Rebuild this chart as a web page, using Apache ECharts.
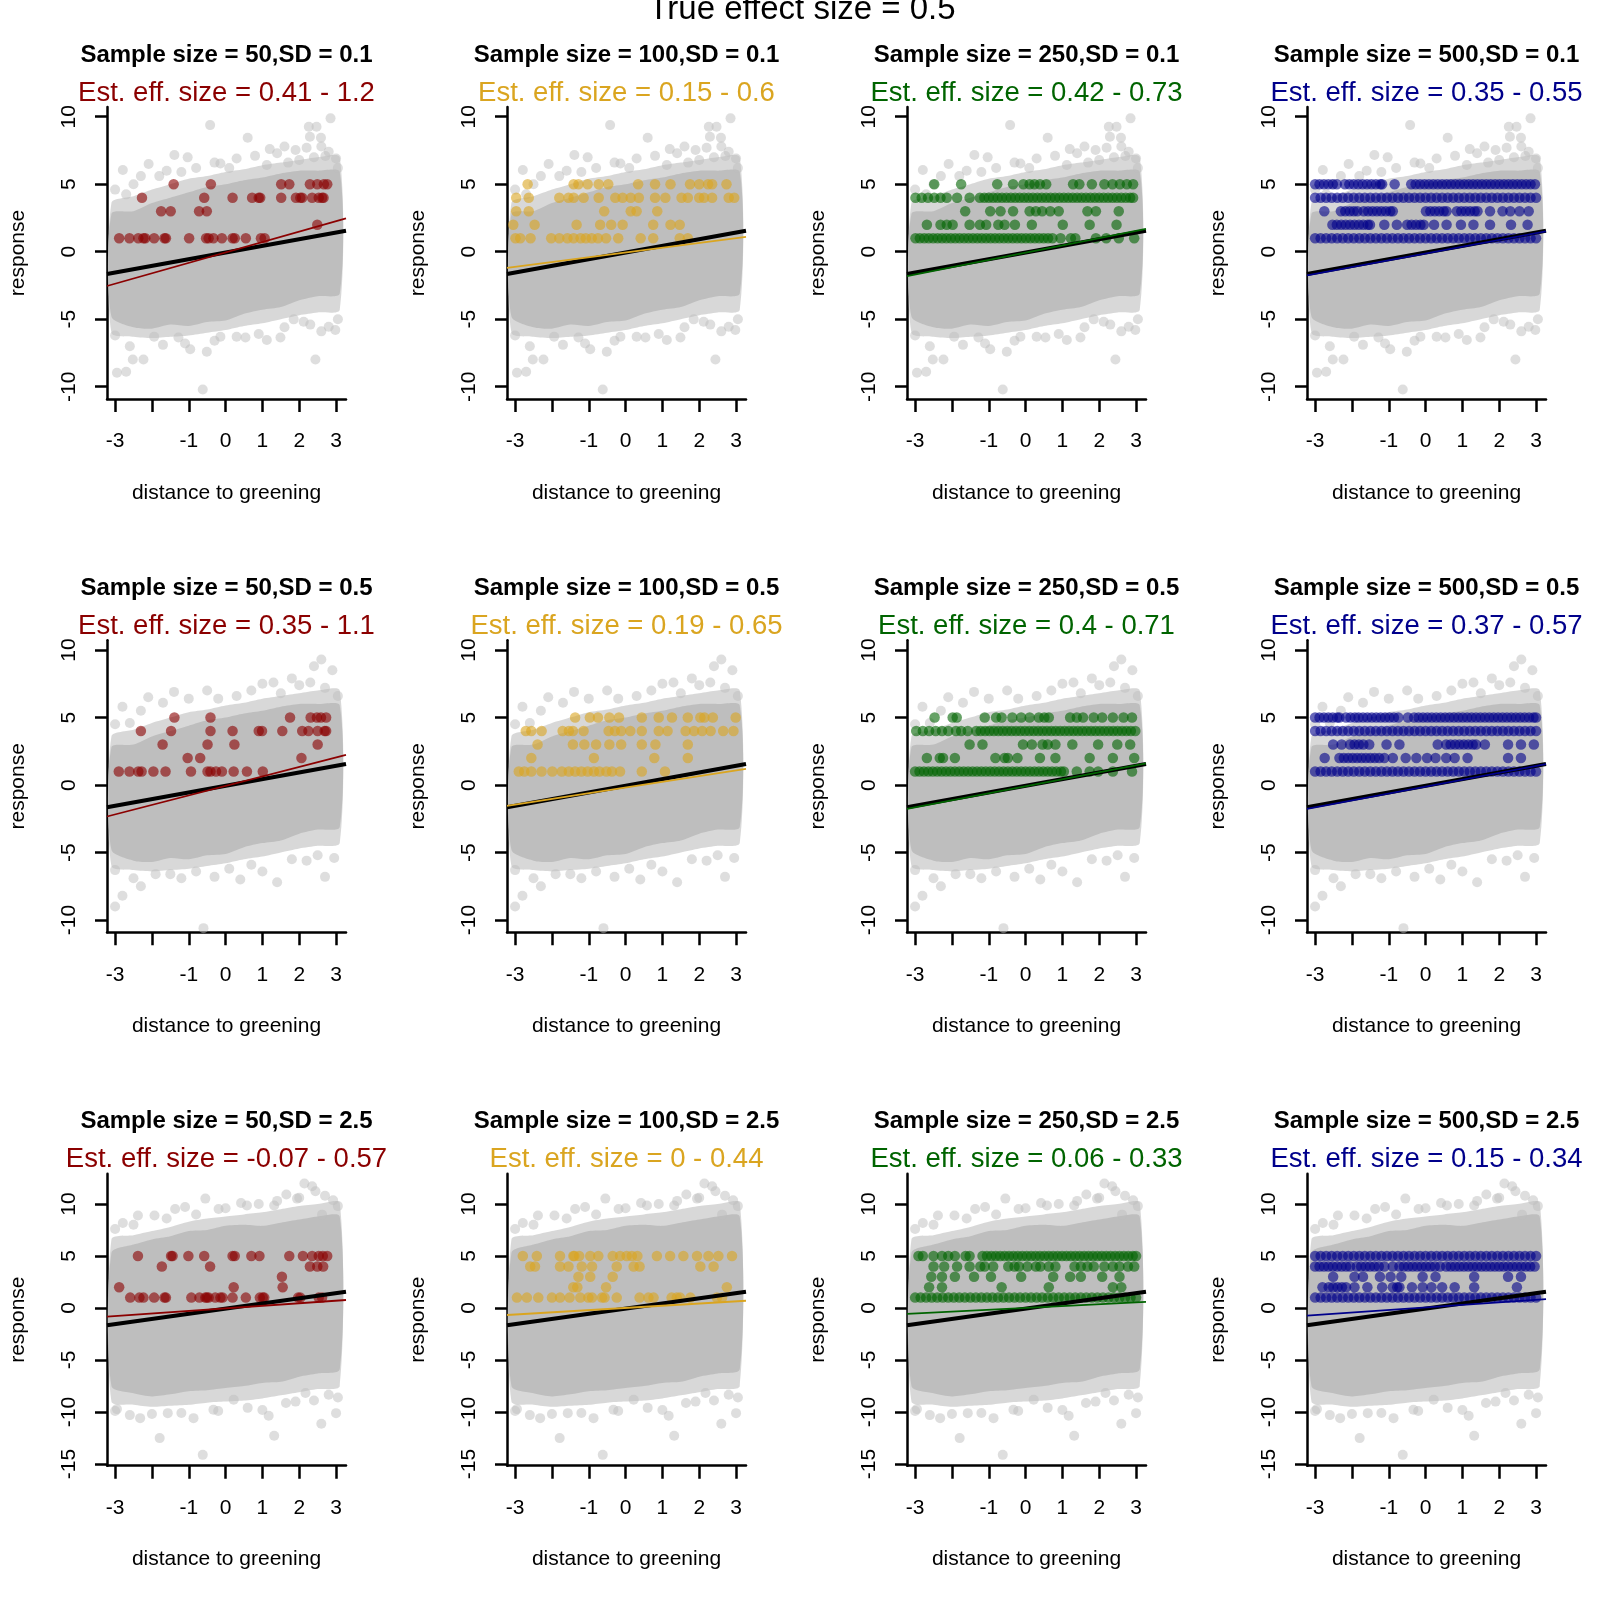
<!DOCTYPE html>
<html>
<head>
<meta charset="utf-8">
<script src="https://cdn.jsdelivr.net/npm/echarts@6/dist/echarts.min.js"></script>
<style>
  html, body { margin: 0; padding: 0; background: #fff; }
  #chart { width: 1600px; height: 1600px; }
</style>
</head>
<body>
<div id="chart"></div>
<script>
// panel headings
const sampleSizes = [50, 100, 250, 500];
const sdLevels = ['0.1', '0.5', '2.5'];
const panelColors = ['#8B0000', '#DAA520', '#006400', '#00008B'];
const estRanges = [
  ['0.41 - 1.2', '0.15 - 0.6', '0.42 - 0.73', '0.35 - 0.55'],
  ['0.35 - 1.1', '0.19 - 0.65', '0.4 - 0.71', '0.37 - 0.57'],
  ['-0.07 - 0.57', '0 - 0.44', '0.06 - 0.33', '0.15 - 0.34']
];

// ticks
const xTicks = [-3, -2, -1, 0, 1, 2, 3];
const xTickLabels = [-3, -1, 0, 1, 2, 3];
const yTicksTop = [-10, -5, 0, 5, 10];
const yTicksBottom = [-15, -10, -5, 0, 5, 10];

// grey cloud: dense band and sparse band
const bandX = [-3.1, -2.5, -2, -1.5, -1, -0.5, 0, 0.5, 1, 1.5, 2, 2.5, 3.1];
const coreTopA = [2.8, 3.0, 3.6, 4.0, 4.4, 4.8, 5.0, 5.3, 5.5, 5.8, 6.0, 6.0, 5.9];
const coreBotA = [-4.8, -5.6, -5.7, -5.4, -5.5, -5.2, -5.1, -4.6, -4.3, -4.1, -3.6, -3.3, -3.1];
const haloTopA = [3.6, 4.1, 4.6, 5.0, 5.4, 5.6, 5.9, 6.1, 6.4, 6.6, 6.8, 7.0, 7.0];
const haloBotA = [-6.0, -6.3, -6.4, -6.3, -6.2, -6.0, -5.8, -5.5, -5.3, -5.0, -4.7, -4.5, -4.3];
const coreTopC = [5.3, 6.1, 6.6, 6.9, 7.4, 7.5, 7.9, 8.0, 7.9, 8.2, 8.5, 8.8, 8.8];
const coreBotC = [-7.5, -8.2, -8.5, -8.3, -8.0, -7.9, -7.7, -7.5, -7.2, -7.1, -6.6, -6.3, -5.9];
const haloTopC = [6.6, 7.0, 7.4, 7.8, 8.3, 8.6, 8.8, 9.0, 9.2, 9.5, 9.8, 10.0, 10.1];
const haloBotC = [-9.0, -9.3, -9.5, -9.4, -9.3, -9.1, -9.0, -8.9, -8.7, -8.4, -8.1, -7.8, -7.5];

// loose grey points outside the cloud
const strayA = [[-2.79,6.05],[-2.70,4.25],[-2.09,6.5],[-1.39,7.16],[-1.03,6.99],[-0.42,9.38],[-0.14,6.54],[0.60,8.44],[1.12,6.42],[1.90,7.53],[2.26,9.26],[2.47,9.26],[2.29,8.52],[2.59,8.44],[2.85,9.88],[2.71,7.09],[-2.5,5.0],[-1.8,5.6],[-0.8,6.2],[0.3,6.9],[1.4,7.3],[2.0,6.8],[2.2,7.7],[2.6,7.8],[3.0,6.9],[1.7,6.6],
  [-3.0,4.6],[-2.3,5.6],[-1.6,6.0],[-1.2,5.9],[-0.3,6.6],[0.1,6.2],[0.8,7.1],[1.2,7.6],[1.6,7.8],[2.4,7.0],[2.8,7.4],[3.05,6.2],
  [-2.95,-8.96],[-2.70,-8.89],[-2.52,-7.98],[-2.23,-7.98],[-0.96,-7.23],[-0.51,-7.41],[-0.62,-10.2],[-0.14,-6.30],[0.54,-6.35],[1.12,-6.54],[1.49,-6.35],[2.44,-7.98],[2.80,-5.56],[2.98,-5.80],[1.85,-5.01],[2.12,-5.19],[-1.28,-6.35],[-1.94,-6.30],
  [-3.0,-6.2],[-2.6,-7.0],[-1.7,-6.9],[-1.1,-6.8],[-0.3,-6.6],[0.3,-6.3],[0.9,-6.1],[1.6,-5.6],[2.3,-5.4],[2.6,-5.9],[3.05,-5.0]];
const strayB = [[-2.8,5.8],[-2.1,6.5],[-1.4,6.9],[-0.5,7.0],[0.3,6.6],[1.0,7.5],[1.5,6.8],[2.0,7.4],[2.4,8.8],[2.6,9.3],[2.9,8.5],[2.7,7.2],[-2.6,4.6],[-1.0,6.4],
  [-3.0,4.5],[-2.3,5.5],[-1.7,6.1],[-0.2,6.4],[0.7,7.0],[1.3,7.6],[1.8,7.9],[2.3,7.6],[3.05,6.6],
  [-3.0,-9.0],[-2.8,-8.2],[-2.3,-7.5],[-1.9,-6.6],[-1.2,-6.9],[-0.6,-10.6],[-0.3,-6.8],[0.4,-7.0],[1.0,-6.4],[1.4,-7.2],[2.2,-5.6],[2.7,-6.8],[2.95,-5.4],
  [-3.0,-6.3],[-2.5,-6.9],[-1.5,-6.6],[-0.8,-6.4],[0.1,-6.2],[0.7,-5.9],[1.8,-5.5],[2.5,-5.2]];
const strayC = [[-2.79,8.18],[-2.38,8.89],[-1.93,8.89],[-1.37,9.53],[-1.10,9.72],[-0.55,10.52],[-0.19,9.53],[0.42,10.1],[0.58,9.85],[1.32,9.85],[1.65,10.91],[1.94,10.52],[2.14,11.97],[2.35,11.71],[2.44,11.23],[2.92,10.36],[2.62,8.98],
  [-3.0,7.6],[-2.5,8.0],[-1.6,8.6],[-0.8,9.0],[0.0,9.6],[0.9,10.0],[1.4,10.3],[2.0,10.6],[2.7,10.8],[3.05,9.8],
  [-2.95,-9.72],[-2.32,-10.59],[-1.79,-12.51],[-1.57,-10.11],[-0.87,-10.59],[-0.62,-14.12],[-0.33,-9.79],[1.17,-10.36],[1.32,-12.29],[1.64,-9.14],[2.17,-8.18],[2.60,-11.13],[3.0,-10.11],[2.80,-8.34],[0.22,-8.82],
  [-3.0,-9.9],[-2.6,-10.3],[-2.0,-10.2],[-1.2,-10.1],[-0.2,-9.9],[0.6,-9.6],[1.0,-9.8],[1.9,-9.0],[2.4,-8.9],[3.05,-8.6]];

// coloured sample points: x positions at response 1,2,3,4,5
const fullRow = [-3,-2.85,-2.7,-2.55,-2.4,-2.25,-2.1,-1.95,-1.8,-1.65,-1.5,-1.35,-1.2,-1.05,-0.9,-0.75,-0.6,-0.45,-0.3,-0.15,0,0.15,0.3,0.45,0.6,0.75,0.9,1.05,1.2,1.35,1.5,1.65,1.8,1.95,2.1,2.25,2.4,2.55,2.7,2.85,3];
const ptsR1C1 = [
  [-2.89,-2.61,-2.37,-2.23,-2.18,-1.94,-1.66,-1.62,-0.99,-0.53,-0.46,-0.33,-0.10,0.19,0.25,0.55,0.96,1.06],
  [2.49],
  [-1.75,-1.49,-0.72,-0.51],
  [-2.27,-0.58,0.19,0.72,0.90,0.94,1.51,1.91,2.03,2.08,2.35,2.53,2.62,2.66],
  [-1.41,-0.40,1.51,1.73,2.29,2.49,2.67,2.76]
];
const ptsR1C2 = [
  [-2.99,-2.86,-2.58,-2.02,-1.80,-1.58,-1.41,-1.22,-1.08,-0.92,-0.75,-0.53,-0.20,0.41,0.75,1.47,1.69],
  [-3.05,-2.47,-1.33,-0.69,-0.39,-0.08,0.75,1.22,1.47],
  [-2.97,-2.63,-0.58,0.14,0.30,0.86],
  [-2.97,-2.63,-1.80,-1.55,-1.41,-1.14,-0.73,-0.28,-0.08,0.14,0.36,0.80,1.08,1.52,1.69,2.00,2.13,2.35,2.80,2.95],
  [-2.66,-1.41,-1.28,-1.03,-0.73,-0.47,0.34,0.80,1.22,1.75,2.00,2.24,2.35,2.74]
];
const ptsR1C3 = [
  [-2.99,-2.87,-2.75,-2.63,-2.51,-2.39,-2.27,-2.15,-2.03,-1.91,-1.79,-1.67,-1.55,-1.43,-1.31,-1.19,-1.07,-0.95,-0.83,-0.71,-0.59,-0.47,-0.35,-0.23,-0.11,0.01,0.13,0.25,0.37,0.49,0.61,0.73,0.95,1.23,1.35,1.91,2.19,2.53,2.95],
  [-2.68,-2.31,-2.14,-1.98,-1.52,-1.24,-1.07,-0.74,-0.57,-0.29,0.17,1.01,1.74,2.47],
  [-1.64,-0.96,-0.68,-0.34,0.11,0.28,0.45,0.67,0.90,1.68,1.91,2.53],
  [-2.99,-2.82,-2.65,-2.48,-2.31,-2.14,-1.86,-1.52,-1.24,-1.12,-1.0,-0.88,-0.76,-0.64,-0.52,-0.4,-0.28,-0.16,-0.04,0.08,0.2,0.32,0.44,0.56,0.68,0.8,0.92,1.04,1.16,1.28,1.4,1.52,1.64,1.76,1.88,2.0,2.12,2.24,2.36,2.48,2.6,2.72,2.84,2.92],
  [-2.48,-1.75,-0.77,-0.34,-0.06,0.11,0.24,0.39,0.56,1.29,1.46,1.80,2.14,2.36,2.56,2.75,2.92]
];
const ptsR1C4 = [
  fullRow,
  [-2.53,-2.41,-2.29,-2.17,-2.05,-1.93,-1.81,-1.69,-1.57,-1.51,-1.12,-0.78,-0.5,-0.38,-0.26,-0.14,-0.05,0.23,0.57,0.96,1.30,1.75,2.32,2.77],
  [-2.75,-2.3,-2.18,-2.06,-1.95,-1.85,-1.68,-1.56,-1.44,-1.32,-1.2,-1.08,-0.96,-0.89,0.01,0.13,0.25,0.37,0.49,0.57,0.85,0.97,1.09,1.21,1.33,1.41,1.75,2.09,2.3,2.55,2.8],
  fullRow,
  [-3,-2.88,-2.76,-2.64,-2.52,-2.41,-2.19,-2.07,-1.95,-1.83,-1.71,-1.59,-1.47,-1.35,-1.23,-1.18,-0.84,-0.39,-0.27,-0.15,-0.03,0.09,0.21,0.33,0.45,0.57,0.69,0.81,0.93,1.05,1.17,1.29,1.41,1.53,1.65,1.77,1.89,2.01,2.13,2.25,2.37,2.49,2.61,2.73,2.85,2.97]
];
const ptsR2C1 = [
  [-2.90,-2.61,-2.37,-2.28,-1.96,-1.63,-0.94,-0.49,-0.41,-0.26,-0.10,0.22,0.58,1.01],
  [-1.03,-0.69,2.06],
  [-1.71,-0.49,0.24,2.50],
  [-2.30,-1.48,-0.41,0.19,0.90,0.99,1.54,2.08,2.25,2.50,2.69,2.73],
  [-1.39,-0.41,1.75,2.31,2.48,2.59,2.73]
];
const ptsR2C2 = [
  [-2.90,-2.75,-2.56,-2.28,-1.99,-1.73,-1.54,-1.37,-1.20,-1.03,-0.86,-0.71,-0.52,-0.37,-0.15,0.44,1.07],
  [-2.56,-0.86,0.78,1.69],
  [-2.39,-1.43,-1.12,-0.80,-0.44,-0.12,0.44,0.81,1.69],
  [-2.71,-2.56,-2.28,-1.71,-1.54,-1.43,-1.14,-0.46,-0.29,-0.12,0.13,0.44,0.90,1.14,1.63,1.86,2.08,2.31,2.65,2.93],
  [-1.37,-0.97,-0.75,-0.44,-0.18,0.44,0.90,1.26,1.69,2.03,2.14,2.37,2.99]
];
const ptsR2C3 = [
  [-3,-2.88,-2.76,-2.64,-2.52,-2.4,-2.28,-2.16,-2.04,-1.92,-1.8,-1.68,-1.56,-1.44,-1.32,-1.2,-1.08,-0.96,-0.84,-0.72,-0.6,-0.48,-0.36,-0.24,-0.12,0,0.12,0.24,0.36,0.48,0.6,0.72,0.84,0.96,1.04,1.39,1.74,1.97,2.37,2.89],
  [-2.68,-2.33,-2.24,-1.92,-0.82,-0.57,-0.48,-0.22,0.39,0.81,1.74,2.37,2.95],
  [-1.52,-1.17,-0.07,0.17,0.46,0.60,0.81,1.27,1.97,2.49,2.84],
  [-2.97,-2.79,-2.62,-2.44,-2.27,-2.10,-1.89,-1.75,-1.57,-1.34,-1.22,-1.1,-0.98,-0.86,-0.74,-0.62,-0.5,-0.38,-0.26,-0.14,-0.02,0.1,0.22,0.34,0.46,0.58,0.7,0.82,0.94,1.06,1.18,1.3,1.42,1.54,1.66,1.78,1.9,2.02,2.14,2.26,2.38,2.5,2.62,2.74,2.86,2.98],
  [-2.47,-1.98,-1.87,-1.11,-0.80,-0.65,-0.36,-0.12,0.11,0.36,0.51,0.63,1.21,1.39,1.56,1.85,2.08,2.37,2.66,2.89]
];
const ptsR2C4 = [
  fullRow,
  [-2.74,-2.34,-2.22,-2.1,-1.98,-1.86,-1.74,-1.62,-1.5,-1.38,-1.26,-1.12,-0.89,-0.54,-0.25,0.04,0.27,0.56,0.79,1.14,2.24,2.59],
  [-2.51,-2.28,-2.05,-1.93,-1.81,-1.69,-1.53,-1.06,-0.71,0.33,0.56,0.68,0.8,0.92,1.04,1.16,1.28,1.37,1.61,2.24,2.59,2.94],
  fullRow,
  [-3,-2.88,-2.76,-2.64,-2.52,-2.4,-2.34,-2.16,-2.04,-1.92,-1.82,-1.70,-1.58,-1.46,-1.34,-1.22,-1.10,-0.98,-0.86,-0.74,-0.48,-0.31,-0.19,-0.07,0.05,0.17,0.29,0.41,0.53,0.65,0.77,0.89,1.01,1.13,1.25,1.37,1.49,1.61,1.73,1.85,1.97,2.09,2.21,2.33,2.45,2.57,2.69,2.81,2.93,3.0]
];
const ptsR3C1 = [
  [-2.59,-2.34,-2.23,-1.94,-1.66,-1.62,-0.93,-0.71,-0.55,-0.51,-0.46,-0.28,-0.14,-0.08,0.19,0.55,0.93,1.01,1.05,1.97,2.03,2.53,2.62],
  [-2.89,0.22,1.55],
  [1.53],
  [-1.73,-0.42,2.29,2.49,2.65],
  [-2.38,-1.48,-1.44,-1.01,-0.58,0.19,0.25,0.70,0.92,1.73,2.10,2.35,2.53,2.64,2.76]
];
const ptsR3C2 = [
  [-2.95,-2.68,-2.37,-2.00,-1.78,-1.52,-1.23,-1.01,-0.91,-0.64,-0.57,-0.24,0.38,0.62,0.76,1.25,1.39,1.48,1.76,2.48,2.62],
  [-1.42,-1.31,-0.53,2.75],
  [-1.28,-0.96,-0.35],
  [-2.59,-2.46,-1.78,-1.55,-1.19,-0.91,-0.24,0.22,0.38,2.03,2.39],
  [-2.79,-2.41,-1.78,-1.42,-1.39,-1.26,-0.96,-0.74,-0.35,-0.15,0.03,0.17,0.32,0.85,1.21,1.57,1.94,2.25,2.52,2.89]
];
const ptsR3C3 = [
  fullRow,
  [-2.62,-2.27,-0.65,0.63,2.37,2.60],
  [-2.56,-2.27,-1.92,-1.40,-0.94,-0.12,0.75,1.21,1.50,2.08,2.55],
  [-2.50,-2.21,-1.86,-1.52,-1.23,-1.11,-0.88,-0.47,-0.30,-0.18,0.05,0.28,0.40,0.63,0.81,1.33,1.50,1.68,1.85,2.14,2.37,2.55,2.78,2.95],
  [-2.91,-2.79,-2.50,-2.27,-2.10,-1.92,-1.63,-1.52,-1.17,-1.05,-0.93,-0.81,-0.69,-0.57,-0.45,-0.33,-0.21,-0.09,0.03,0.15,0.27,0.39,0.51,0.63,0.75,0.87,0.99,1.11,1.23,1.35,1.47,1.59,1.71,1.83,1.95,2.07,2.19,2.31,2.43,2.55,2.67,2.79,2.91,3.0]
];
const ptsR3C4 = [
  fullRow,
  [-2.80,-2.63,-2.51,-2.39,-2.27,-2.16,-1.93,-1.58,-1.18,-0.89,-0.77,-0.71,-0.37,-0.08,0.16,0.45,0.79,1.32,2.48],
  [-2.51,-1.93,-1.70,-1.24,-0.95,-0.66,-0.08,0.27,1.32,2.24,2.59],
  [-3,-2.88,-2.76,-2.64,-2.52,-2.4,-2.28,-2.16,-2.05,-1.87,-1.75,-1.63,-1.51,-1.39,-1.27,-1.12,-0.89,-0.71,-0.59,-0.47,-0.35,-0.23,-0.11,0.01,0.13,0.25,0.39,0.56,0.68,0.8,0.92,1.04,1.16,1.28,1.4,1.52,1.64,1.76,1.88,2.0,2.12,2.24,2.36,2.48,2.6,2.72,2.84,2.96],
  fullRow
];
const panelPoints = [
  [ptsR1C1, ptsR1C2, ptsR1C3, ptsR1C4],
  [ptsR2C1, ptsR2C2, ptsR2C3, ptsR2C4],
  [ptsR3C1, ptsR3C2, ptsR3C3, ptsR3C4]
];

// fitted lines, y at left and right edge of the plot
const trueLine = [-1.65, 1.56];
const fitLines = [
  [[-2.54, 2.47], [-1.2, 1.1], [-1.8, 1.7], [-1.75, 1.5]],
  [[-2.33, 2.24], [-1.55, 1.2], [-1.76, 1.6], [-1.76, 1.55]],
  [[-0.83, 0.77], [-0.67, 0.70], [-0.57, 0.60], [-0.73, 0.86]]
];

const FONT = 'Liberation Sans';
const X_MIN = -3.22, X_MAX = 3.27;
const rowYRange = [[-10.91, 10.72], [-10.91, 10.72], [-15.16, 12.92]];
const rowBands = [
  [coreTopA, coreBotA, haloTopA, haloBotA, strayA],
  [coreTopA, coreBotA, haloTopA, haloBotA, strayB],
  [coreTopC, coreBotC, haloTopC, haloBotC, strayC]
];

const chart = echarts.init(document.getElementById('chart'), null, { renderer: 'canvas' });

const grids = [], xAxes = [], yAxes = [], titles = [], series = [];

titles.push({
  text: 'True effect size = 0.5', left: 802, top: 10, padding: 0,
  textAlign: 'center', textVerticalAlign: 'middle',
  textStyle: { fontFamily: FONT, fontSize: 33, fontWeight: 'normal', color: '#000' }
});

function band(idx, top, bot, fill) {
  return {
    type: 'custom', xAxisIndex: idx, yAxisIndex: idx, silent: true, z: 1,
    data: [[0, 0]],
    renderItem: function (params, api) {
      const pts = [];
      for (let k = 0; k < bandX.length; k++) pts.push(api.coord([bandX[k], top[k]]));
      for (let k = bandX.length - 1; k >= 0; k--) pts.push(api.coord([bandX[k], bot[k]]));
      return { type: 'polygon', shape: { points: pts, smooth: 0.25 }, style: { fill: fill } };
    }
  };
}

for (let r = 0; r < 3; r++) {
  for (let c = 0; c < 4; c++) {
    const i = r * 4 + c;
    const left = 107 + 400 * c;
    const top = 107 + 533.33 * r;
    const cx = left + 119.5;
    const col = panelColors[c];
    grids.push({ left: left, top: top, width: 239, height: 292 });

    xAxes.push({
      gridIndex: i, type: 'value', min: X_MIN, max: X_MAX,
      axisLine: { show: true, onZero: false, lineStyle: { color: '#000', width: 2.5 } },
      axisTick: { show: true, length: 13, customValues: xTicks, lineStyle: { color: '#000', width: 2.5 } },
      axisLabel: { customValues: xTickLabels, margin: 32, fontSize: 21, fontFamily: FONT, color: '#000',
        formatter: v => String(v) },
      splitLine: { show: false },
      name: 'distance to greening', nameLocation: 'middle', nameGap: 94,
      nameTextStyle: { fontSize: 21, fontFamily: FONT, color: '#000', verticalAlign: 'middle' }
    });

    const yt = r === 2 ? yTicksBottom : yTicksTop;
    yAxes.push({
      gridIndex: i, type: 'value', min: rowYRange[r][0], max: rowYRange[r][1],
      axisLine: { show: true, onZero: false, lineStyle: { color: '#000', width: 2.5 } },
      axisTick: { show: true, length: 12, customValues: yt, lineStyle: { color: '#000', width: 2.5 } },
      axisLabel: { customValues: yt, rotate: 90, margin: 27, fontSize: 21, fontFamily: FONT, color: '#000',
        formatter: v => String(v) },
      splitLine: { show: false },
      name: 'response', nameLocation: 'middle', nameGap: 89, nameRotate: 90,
      nameTextStyle: { fontSize: 21, fontFamily: FONT, color: '#000', verticalAlign: 'middle' }
    });

    titles.push({
      text: 'Sample size = ' + sampleSizes[c] + ',SD = ' + sdLevels[r],
      left: cx, top: 55 + 533.33 * r, padding: 0, textAlign: 'center', textVerticalAlign: 'middle',
      textStyle: { fontFamily: FONT, fontSize: 24, fontWeight: 'bold', color: '#000' }
    });
    titles.push({
      text: 'Est. eff. size = ' + estRanges[r][c],
      left: cx, top: 93 + 533.33 * r, padding: 0, textAlign: 'center', textVerticalAlign: 'middle',
      textStyle: { fontFamily: FONT, fontSize: 27.5, fontWeight: 'normal', color: col }
    });

    const b = rowBands[r];
    series.push(band(i, b[2], b[3], 'rgba(190,190,190,0.6)'));
    series.push(band(i, b[0], b[1], '#bebebe'));
    series.push({
      type: 'scatter', xAxisIndex: i, yAxisIndex: i, silent: true, z: 2,
      symbol: 'circle', symbolSize: 10,
      itemStyle: { color: '#bebebe', opacity: 0.5 },
      data: b[4]
    });

    const pts = panelPoints[r][c];
    const data = [];
    pts.forEach((xs, k) => xs.forEach(x => data.push([x, k + 1])));
    series.push({
      type: 'scatter', xAxisIndex: i, yAxisIndex: i, silent: true, z: 3,
      symbol: 'circle', symbolSize: 10.5,
      itemStyle: { color: col, opacity: 0.6 },
      data: data
    });

    series.push({
      type: 'line', xAxisIndex: i, yAxisIndex: i, silent: true, z: 4,
      symbol: 'none', lineStyle: { color: '#000', width: 4 },
      data: [[X_MIN, trueLine[0]], [X_MAX, trueLine[1]]]
    });
    const f = fitLines[r][c];
    series.push({
      type: 'line', xAxisIndex: i, yAxisIndex: i, silent: true, z: 5,
      symbol: 'none', lineStyle: { color: col, width: 1.8 },
      data: [[X_MIN, f[0]], [X_MAX, f[1]]]
    });
  }
}

chart.setOption({
  animation: false,
  backgroundColor: '#fff',
  textStyle: { fontFamily: FONT },
  title: titles,
  grid: grids,
  xAxis: xAxes,
  yAxis: yAxes,
  series: series
});
</script>
</body>
</html>
